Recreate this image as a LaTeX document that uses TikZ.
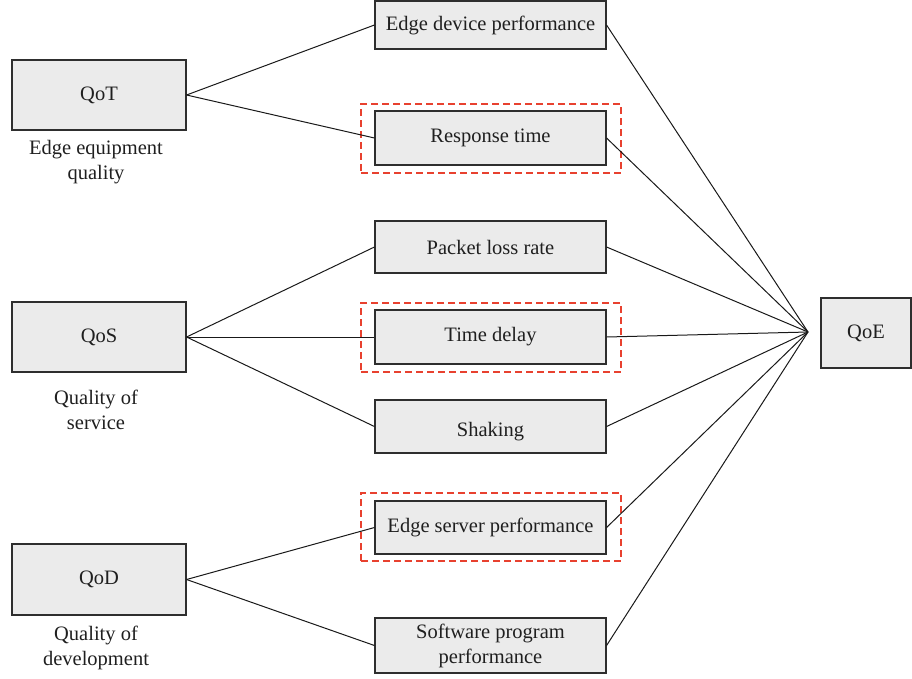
\documentclass[tikz,border=0pt]{standalone}
\usepackage{fontspec}
\setmainfont{Liberation Serif}
\definecolor{boxfill}{HTML}{EBEBEB}
\definecolor{boxline}{HTML}{2E2E2E}
\definecolor{dashred}{HTML}{E8412F}
\begin{document}
\begin{tikzpicture}[x=1pt,y=-1pt,
  box/.style={draw=boxline, fill=boxfill, line width=1.1pt, rectangle, inner sep=0pt,
    align=center, font={\fontsize{20.5}{25}\selectfont}, text=black!88},
  midbox/.style={box, minimum width=231pt},
  leftbox/.style={box, minimum width=174pt, minimum height=70pt},
  lbl/.style={align=center, inner sep=0pt, font={\fontsize{20.5}{25}\selectfont}, text=black!88},
  dashbox/.style={draw=dashred, dash pattern=on 7pt off 4pt, line width=1.3pt, rectangle, minimum width=260pt, inner sep=0pt},
  conn/.style={line width=1pt, black!90}]
\useasboundingbox (0,0) rectangle (912,678);
% dashed highlight boxes
\node[dashbox, minimum height=69pt] (rtd) at (491,138.5) {};
\node[dashbox, minimum height=69pt] (tdd) at (491,337.5) {};
\node[dashbox, minimum height=68pt] (esd) at (491,527) {};
% left boxes
\node[leftbox] (qot) at (99,95) {QoT};
\node[leftbox] (qos) at (99,337) {QoS};
\node[leftbox, minimum height=71pt] (qod) at (99,579.5) {QoD};
\node[lbl] (qotl) at (96,162.5) {Edge equipment\\quality};
\node[lbl] (qosl) at (96,410) {Quality of\\service};
\node[lbl] (qodl) at (96,647.5) {Quality of\\development};
% middle boxes
\node[midbox, minimum height=48pt] (edp) at (490.5,25) {Edge device performance};
\node[midbox, minimum height=54pt] (rt) at (490.5,138) {Response time};
\node[midbox, minimum height=52pt] (plr) at (490.5,247) {Packet loss rate};
\node[midbox, minimum height=54pt] (td) at (490.5,337) {Time delay};
\node[midbox, minimum height=53pt] (sh) at (490.5,426.5) {};
\node[lbl] (shl) at (490.5,432) {Shaking};
\node[midbox, minimum height=53pt] (esp) at (490.5,527.5) {Edge server performance};
\node[midbox, minimum height=55pt] (spp) at (490.5,645.5) {Software program\\performance};
% QoE
\node[box, minimum width=90pt, minimum height=70pt] (qoe) at (866,333) {QoE};
\coordinate (hub) at (808,332);
% connectors
\draw[conn] (qot.east) -- (edp.west);
\draw[conn] (qot.east) -- (rt.west);
\draw[conn] (qos.east) -- (plr.west);
\draw[conn] (qos.east) -- (td.west);
\draw[conn] (qos.east) -- (sh.west);
\draw[conn] (qod.east) -- (esp.west);
\draw[conn] (qod.east) -- (spp.west);
\foreach \n in {edp,rt,plr,td,sh,esp,spp}{\draw[conn] (\n.east) -- (hub);}
\end{tikzpicture}
\end{document}
